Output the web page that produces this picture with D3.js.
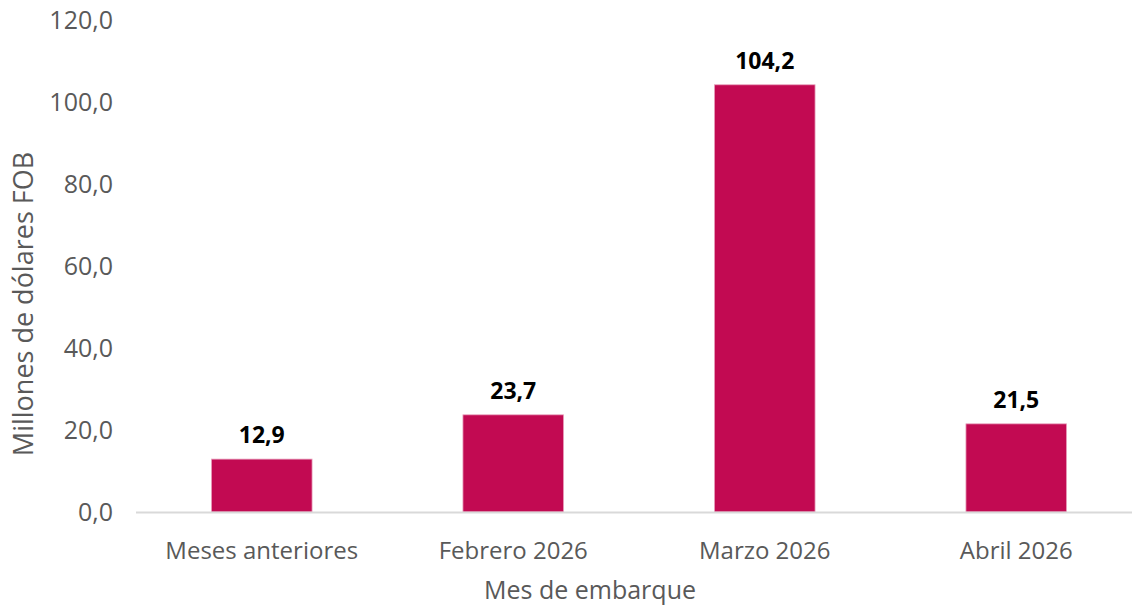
<!DOCTYPE html>
<html>
<head>
<meta charset="utf-8">
<script src="https://cdn.jsdelivr.net/npm/d3@7"></script>
<style>
  body { margin: 0; background: #fff; }
  svg { display: block; font-family: "Open Sans", "Noto Sans", sans-serif; }
</style>
</head>
<body>
<svg width="1132" height="605"></svg>
<script>
// data
const categories = ["Meses anteriores", "Febrero 2026", "Marzo 2026", "Abril 2026"];
const values = [12.9, 23.7, 104.2, 21.5];
const yTicks = [0, 20, 40, 60, 80, 100, 120];

const svg = d3.select("svg");
const fmt = v => d3.format(".1f")(v).replace(".", ",");

const x = d3.scaleBand()
    .domain(categories)
    .range([136, 1142])
    .paddingInner(0.6)
    .paddingOuter(0.3);

const y = d3.scaleLinear()
    .domain([0, 120])
    .range([512, 20]);

// y tick labels (no axis line, no gridlines)
svg.append("g")
    .selectAll("text")
    .data(yTicks)
    .enter()
    .append("text")
    .attr("x", 113)
    .attr("y", d => y(d))
    .attr("dy", "0.35em")
    .attr("text-anchor", "end")
    .attr("fill", "#595959")
    .style("font-size", "25px")
    .text(d => fmt(d));

// bars
svg.append("g")
    .selectAll("rect")
    .data(values)
    .enter()
    .append("rect")
    .attr("x", (d, i) => x(categories[i]))
    .attr("y", d => y(d))
    .attr("width", x.bandwidth())
    .attr("height", d => y(0) - y(d))
    .attr("fill", "#c20a52")
    .attr("stroke", "#e8a0bc")
    .attr("stroke-width", 0.8);

// baseline
svg.append("line")
    .attr("x1", 136)
    .attr("x2", 1132)
    .attr("y1", y(0) + 0.5)
    .attr("y2", y(0) + 0.5)
    .attr("stroke", "#d9d9d9")
    .attr("stroke-width", 2);

// value labels
svg.append("g")
    .selectAll("text")
    .data(values)
    .enter()
    .append("text")
    .attr("x", (d, i) => x(categories[i]) + x.bandwidth() / 2)
    .attr("y", d => y(d) - 16)
    .attr("text-anchor", "middle")
    .attr("fill", "#000")
    .style("font-size", "23px")
    .style("font-weight", "bold")
    .text(d => fmt(d));

// category labels
svg.append("g")
    .selectAll("text")
    .data(categories)
    .enter()
    .append("text")
    .attr("x", d => x(d) + x.bandwidth() / 2)
    .attr("y", 551)
    .attr("dy", "0.35em")
    .attr("text-anchor", "middle")
    .attr("fill", "#595959")
    .style("font-size", "24px")
    .text(d => d);

// axis titles
svg.append("text")
    .attr("x", 590)
    .attr("y", 590)
    .attr("dy", "0.35em")
    .attr("text-anchor", "middle")
    .attr("fill", "#595959")
    .style("font-size", "25px")
    .text("Mes de embarque");

svg.append("text")
    .attr("transform", "translate(24,304) rotate(-90)")
    .attr("dy", "0.35em")
    .attr("text-anchor", "middle")
    .attr("fill", "#595959")
    .style("font-size", "27px")
    .text("Millones de dólares FOB");
</script>
</body>
</html>
